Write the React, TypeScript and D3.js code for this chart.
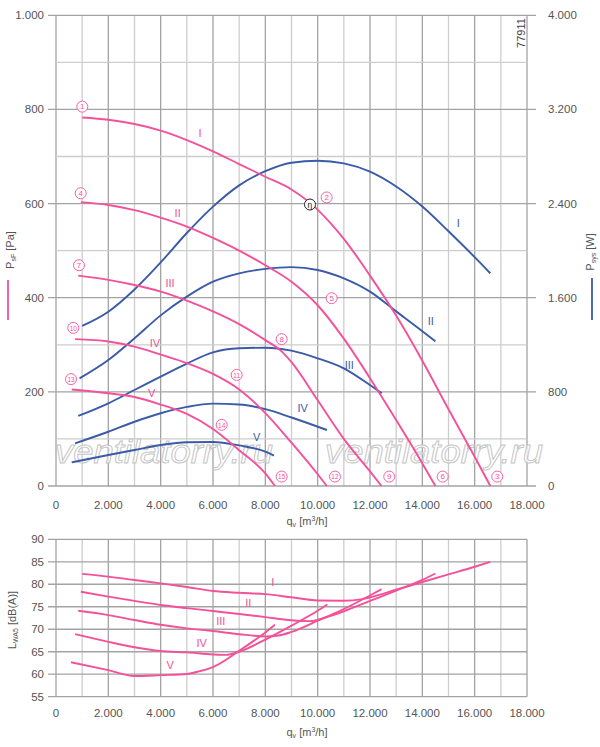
import React, { useEffect, useRef } from 'react';
import * as d3 from 'd3';

type Pt = [number, number];

// axis ticks
const qTicks = [0, 2000, 4000, 6000, 8000, 10000, 12000, 14000, 16000, 18000];
const psfTicks = [0, 200, 400, 600, 800, 1000];
const psysTicks = [0, 800, 1600, 2400, 3200, 4000];
const lwaTicks = [55, 60, 65, 70, 75, 80, 85, 90];

// static pressure psF [Pa] vs qv [m3/h]
const psfI: Pt[] = [[1000, 783], [2000, 778], [3000, 769], [4000, 755], [5000, 735], [6000, 711], [7000, 684], [8000, 657], [9000, 630], [9700, 602], [10500, 558], [11000, 525], [12000, 447], [13000, 362], [14000, 266], [15000, 163], [16000, 62], [16600, 0]];
const psfII: Pt[] = [[950, 603], [2000, 597], [3000, 586], [4000, 570], [5000, 551], [6000, 527], [7000, 500], [8000, 469], [9000, 434], [10000, 384], [11000, 313], [12000, 229], [13000, 140], [14000, 48], [14500, 0]];
const psfIII: Pt[] = [[850, 447], [2000, 438], [3000, 427], [4000, 413], [5000, 394], [6000, 371], [7000, 344], [8000, 310], [8600, 287], [9000, 263], [10000, 182], [11000, 100], [12000, 31], [12440, 0]];
const psfIV: Pt[] = [[730, 312], [2000, 307], [3000, 296], [4000, 279], [5000, 261], [6000, 238], [7000, 205], [8000, 155], [9000, 92], [10000, 25], [10350, 0]];
const psfV: Pt[] = [[600, 205], [2000, 197], [3000, 189], [4000, 173], [5000, 153], [6000, 121], [7000, 76], [8000, 27], [8370, 0]];

// system power Psys [W] vs qv [m3/h]
const psysI: Pt[] = [[1000, 1360], [2000, 1481], [3000, 1670], [4000, 1900], [5000, 2150], [6000, 2374], [7000, 2555], [8000, 2675], [9000, 2747], [10000, 2764], [11000, 2742], [12000, 2671], [13000, 2545], [14000, 2375], [15000, 2165], [16000, 1945], [16600, 1807]];
const psysII: Pt[] = [[900, 915], [2000, 1071], [3000, 1255], [4000, 1450], [5000, 1609], [6000, 1736], [7000, 1807], [8000, 1845], [9000, 1860], [10000, 1836], [11000, 1765], [12000, 1652], [13000, 1484], [14000, 1316], [14500, 1230]];
const psysIII: Pt[] = [[850, 595], [2000, 703], [3000, 816], [4000, 929], [5000, 1040], [6000, 1135], [7000, 1170], [8000, 1175], [9000, 1150], [10000, 1085], [11000, 1000], [12000, 858], [12450, 788]];
const psysIV: Pt[] = [[730, 363], [2000, 461], [3000, 546], [4000, 618], [5000, 672], [6000, 700], [7000, 693], [8000, 653], [9000, 582], [10350, 476]];
const psysV: Pt[] = [[600, 201], [2000, 263], [3000, 306], [4000, 348], [5000, 372], [6000, 374], [7000, 345], [8000, 292], [8330, 258]];

// sound power LWA5 [dB(A)] vs qv [m3/h]
const lwaI: Pt[] = [[1000, 82.3], [2000, 81.7], [3000, 80.95], [4000, 80.2], [5000, 79.4], [6000, 78.5], [7000, 78.1], [8000, 77.8], [9000, 77.1], [10000, 76.4], [11000, 76.35], [11700, 76.7], [12000, 77.1], [13000, 78.8], [14000, 80.5], [15000, 82.2], [16000, 83.9], [16600, 85]];
const lwaII: Pt[] = [[950, 78.35], [2000, 77.25], [3000, 76.3], [4000, 75.4], [5000, 74.7], [6000, 74.05], [7000, 73.4], [8000, 72.7], [9000, 72.0], [9700, 71.8], [10500, 73.0], [11000, 74.0], [12000, 76.3], [13000, 78.6], [14000, 81.0], [14500, 82.4]];
const lwaIII: Pt[] = [[850, 74.1], [2000, 73.15], [3000, 72.05], [4000, 71.0], [5000, 70.2], [6000, 69.6], [7000, 68.9], [8000, 68.4], [8500, 68.6], [9000, 69.4], [10000, 71.9], [11000, 74.5], [12000, 77.5], [12440, 78.9]];
const lwaIV: Pt[] = [[730, 68.9], [2000, 67.2], [3000, 66.0], [4000, 65.15], [5000, 64.85], [6000, 64.4], [6500, 64.3], [7000, 65.0], [8000, 67.7], [9000, 70.8], [10000, 74.1], [10370, 75.5]];
const lwaV: Pt[] = [[570, 62.65], [2000, 60.9], [3000, 59.6], [4000, 59.8], [5000, 60.05], [5500, 60.7], [6000, 61.6], [7000, 65.2], [8000, 69.3], [8370, 71.0]];

// curve labels
const psfLabels = [{ t: 'I', q: 5500, v: 750 }, { t: 'II', q: 4650, v: 579 }, { t: 'III', q: 4360, v: 431 }, { t: 'IV', q: 3780, v: 304 }, { t: 'V', q: 3660, v: 197 }];
const psysLabels = [{ t: 'I', q: 15370, v: 2232 }, { t: 'II', q: 14320, v: 1405 }, { t: 'III', q: 11210, v: 1028 }, { t: 'IV', q: 9430, v: 660 }, { t: 'V', q: 7670, v: 419 }];
const lwaLabels = [{ t: 'I', q: 8280, v: 80.6 }, { t: 'II', q: 7350, v: 75.8 }, { t: 'III', q: 6300, v: 71.9 }, { t: 'IV', q: 5570, v: 67.0 }, { t: 'V', q: 4360, v: 62.05 }];

// operating point markers (circled numbers)
const pointMarks = [
  { n: '1', q: 1005, v: 806 }, { n: '2', q: 10344, v: 613 }, { n: '3', q: 16863, v: 20 },
  { n: '4', q: 944, v: 622 }, { n: '5', q: 10535, v: 399 }, { n: '6', q: 14777, v: 20 },
  { n: '7', q: 879, v: 469 }, { n: '8', q: 8624, v: 312 }, { n: '9', q: 12736, v: 20 },
  { n: '10', q: 661, v: 336 }, { n: '11', q: 6905, v: 236 }, { n: '12', q: 10661, v: 20 },
  { n: '13', q: 573, v: 227 }, { n: '14', q: 6332, v: 130 }, { n: '15', q: 8624, v: 20 },
];
const etaMark = { q: 9706, v: 598 };

const PINK = '#f4519a';
const BLUE = '#3a5ba8';
const TXT = '#555';
const FONT = '"Liberation Sans", Arial, sans-serif';

export default function App() {
  const svgRef = useRef<SVGSVGElement>(null);

  useEffect(() => {
    if (!svgRef.current) return;
    const svg = d3.select(svgRef.current);
    svg.selectAll('*').remove();

    const fmt = d3.formatLocale({ decimal: ',', thousands: '.', grouping: [3], currency: ['', ''] }).format(',');

    const x = d3.scaleLinear().domain([0, 18000]).range([56, 527]);
    const yP = d3.scaleLinear().domain([0, 1000]).range([486, 15.3]);
    const yW = d3.scaleLinear().domain([0, 4000]).range([486, 15.3]);
    const yL = d3.scaleLinear().domain([55, 90]).range([696.7, 539.3]);

    const MAJOR = '#a3a3a3';
    const MINOR = '#cdcdcd';

    // ---- top grid
    const gTop = svg.append('g');
    d3.range(0, 18001, 1000).forEach(q => {
      gTop.append('line')
        .attr('x1', x(q)).attr('x2', x(q)).attr('y1', yP(0)).attr('y2', yP(1000))
        .attr('stroke', q % 2000 === 0 ? MAJOR : MINOR).attr('stroke-width', 1.3);
    });
    d3.range(0, 1001, 100).forEach(p => {
      const major = p % 200 === 0;
      gTop.append('line')
        .attr('x1', major ? 48 : x(0)).attr('x2', major ? 536 : x(18000))
        .attr('y1', yP(p)).attr('y2', yP(p))
        .attr('stroke', major ? MAJOR : MINOR).attr('stroke-width', 1.3);
    });

    // ---- bottom grid
    const gBot = svg.append('g');
    d3.range(0, 18001, 1000).forEach(q => {
      gBot.append('line')
        .attr('x1', x(q)).attr('x2', x(q)).attr('y1', yL(55)).attr('y2', yL(90))
        .attr('stroke', q % 2000 === 0 ? MAJOR : MINOR).attr('stroke-width', 1.3);
    });
    lwaTicks.forEach(l => {
      gBot.append('line')
        .attr('x1', 48).attr('x2', x(18000)).attr('y1', yL(l)).attr('y2', yL(l))
        .attr('stroke', MAJOR).attr('stroke-width', 1.3);
    });

    // ---- tick labels
    const tickText = (xx: number, yy: number, s: string, anchor: string) =>
      svg.append('text').attr('x', xx).attr('y', yy).attr('text-anchor', anchor)
        .attr('dominant-baseline', 'central')
        .style('font-family', FONT).style('font-size', '11.5px').style('fill', TXT).text(s);

    psfTicks.forEach(p => tickText(44, yP(p), fmt(p), 'end'));
    psysTicks.forEach(w => tickText(548, yW(w), fmt(w), 'start'));
    lwaTicks.forEach(l => tickText(44, yL(l), String(l), 'end'));
    qTicks.forEach(q => {
      tickText(x(q), 505, fmt(q), 'middle');
      tickText(x(q), 713, fmt(q), 'middle');
    });

    // ---- axis titles
    const qTitle = (yy: number) => {
      const t = svg.append('text').attr('x', 307).attr('y', yy).attr('text-anchor', 'middle')
        .style('font-family', FONT).style('font-size', '11px').style('fill', TXT);
      t.append('tspan').text('q');
      t.append('tspan').attr('dy', 2).style('font-size', '7px').text('v');
      t.append('tspan').attr('dy', -2).text(' [m');
      t.append('tspan').attr('dy', -4).style('font-size', '7px').text('3');
      t.append('tspan').attr('dy', 4).text('/h]');
    };
    qTitle(525);
    qTitle(736);

    const vTitle = (xx: number, yy: number, main: string, sub: string, unit: string) => {
      const t = svg.append('text').attr('transform', `translate(${xx},${yy}) rotate(-90)`)
        .attr('text-anchor', 'middle')
        .style('font-family', FONT).style('font-size', '11px').style('fill', TXT);
      t.append('tspan').text(main);
      t.append('tspan').attr('dy', 2).style('font-size', '7px').text(sub);
      t.append('tspan').attr('dy', -2).text(` ${unit}`);
    };
    vTitle(14, 250, 'P', 'sF', '[Pa]');
    vTitle(594, 252, 'P', 'sys', '[W]');
    vTitle(16, 620, 'L', 'WA5', '[dB(A)]');

    svg.append('line').attr('x1', 8).attr('x2', 8).attr('y1', 280).attr('y2', 320)
      .attr('stroke', PINK).attr('stroke-width', 1.8);
    svg.append('line').attr('x1', 592).attr('x2', 592).attr('y1', 278).attr('y2', 320)
      .attr('stroke', BLUE).attr('stroke-width', 1.8);

    svg.append('text').attr('transform', 'translate(525,33) rotate(-90)')
      .attr('text-anchor', 'middle')
      .style('font-family', FONT).style('font-size', '11px').style('fill', '#444').text('77911');

    // ---- watermark
    [55, 325].forEach(wx => {
      svg.append('text').attr('x', wx).attr('y', 463)
        .attr('textLength', 218).attr('lengthAdjust', 'spacingAndGlyphs')
        .style('font-family', FONT).style('font-style', 'italic').style('font-size', '33px')
        .style('fill', '#fff').style('fill-opacity', 0.75)
        .style('stroke', '#c4c4c4').style('stroke-width', 0.9)
        .text('ventilatorry.ru');
    });

    // ---- curves
    const drawCurve = (data: Pt[], yScale: d3.ScaleLinear<number, number>, color: string) => {
      const line = d3.line<Pt>().x(d => x(d[0])).y(d => yScale(d[1])).curve(d3.curveMonotoneX);
      svg.append('path').datum(data).attr('fill', 'none').attr('stroke', color)
        .attr('stroke-width', 1.9).attr('stroke-linejoin', 'round').attr('d', line);
    };

    [psysI, psysII, psysIII, psysIV, psysV].forEach(s => drawCurve(s, yW, BLUE));
    [psfI, psfII, psfIII, psfIV, psfV].forEach(s => drawCurve(s, yP, PINK));
    [lwaI, lwaII, lwaIII, lwaIV, lwaV].forEach(s => drawCurve(s, yL, PINK));

    // ---- labels
    const label = (xx: number, yy: number, s: string, color: string) =>
      svg.append('text').attr('x', xx).attr('y', yy).attr('text-anchor', 'middle')
        .attr('dominant-baseline', 'central')
        .style('font-family', FONT).style('font-size', '11px').style('fill', color).text(s);

    psfLabels.forEach(d => label(x(d.q), yP(d.v), d.t, PINK));
    psysLabels.forEach(d => label(x(d.q), yW(d.v), d.t, BLUE));
    lwaLabels.forEach(d => label(x(d.q), yL(d.v), d.t, PINK));

    // ---- circled markers
    pointMarks.forEach(d => {
      const g = svg.append('g').attr('transform', `translate(${x(d.q)},${yP(d.v)})`);
      g.append('circle').attr('r', 5.5).attr('fill', '#fff').attr('stroke', PINK).attr('stroke-width', 0.9);
      g.append('text').attr('text-anchor', 'middle').attr('dominant-baseline', 'central')
        .attr('y', 0.3)
        .style('font-family', FONT).style('font-size', d.n.length > 1 ? '6.5px' : '8px')
        .style('fill', PINK).text(d.n);
    });
    const eg = svg.append('g').attr('transform', `translate(${x(etaMark.q)},${yP(etaMark.v)})`);
    eg.append('circle').attr('r', 5.5).attr('fill', '#fff').attr('stroke', '#222').attr('stroke-width', 1);
    eg.append('text').attr('text-anchor', 'middle').attr('dominant-baseline', 'central')
      .attr('y', 0.5)
      .style('font-family', FONT).style('font-size', '8.5px').style('fill', '#222').text('η');
  }, []);

  return (
    <svg
      ref={svgRef}
      width={600}
      height={747}
      viewBox="0 0 600 747"
      style={{ position: 'absolute', left: 0, top: 0, background: '#fff' }}
    />
  );
}
